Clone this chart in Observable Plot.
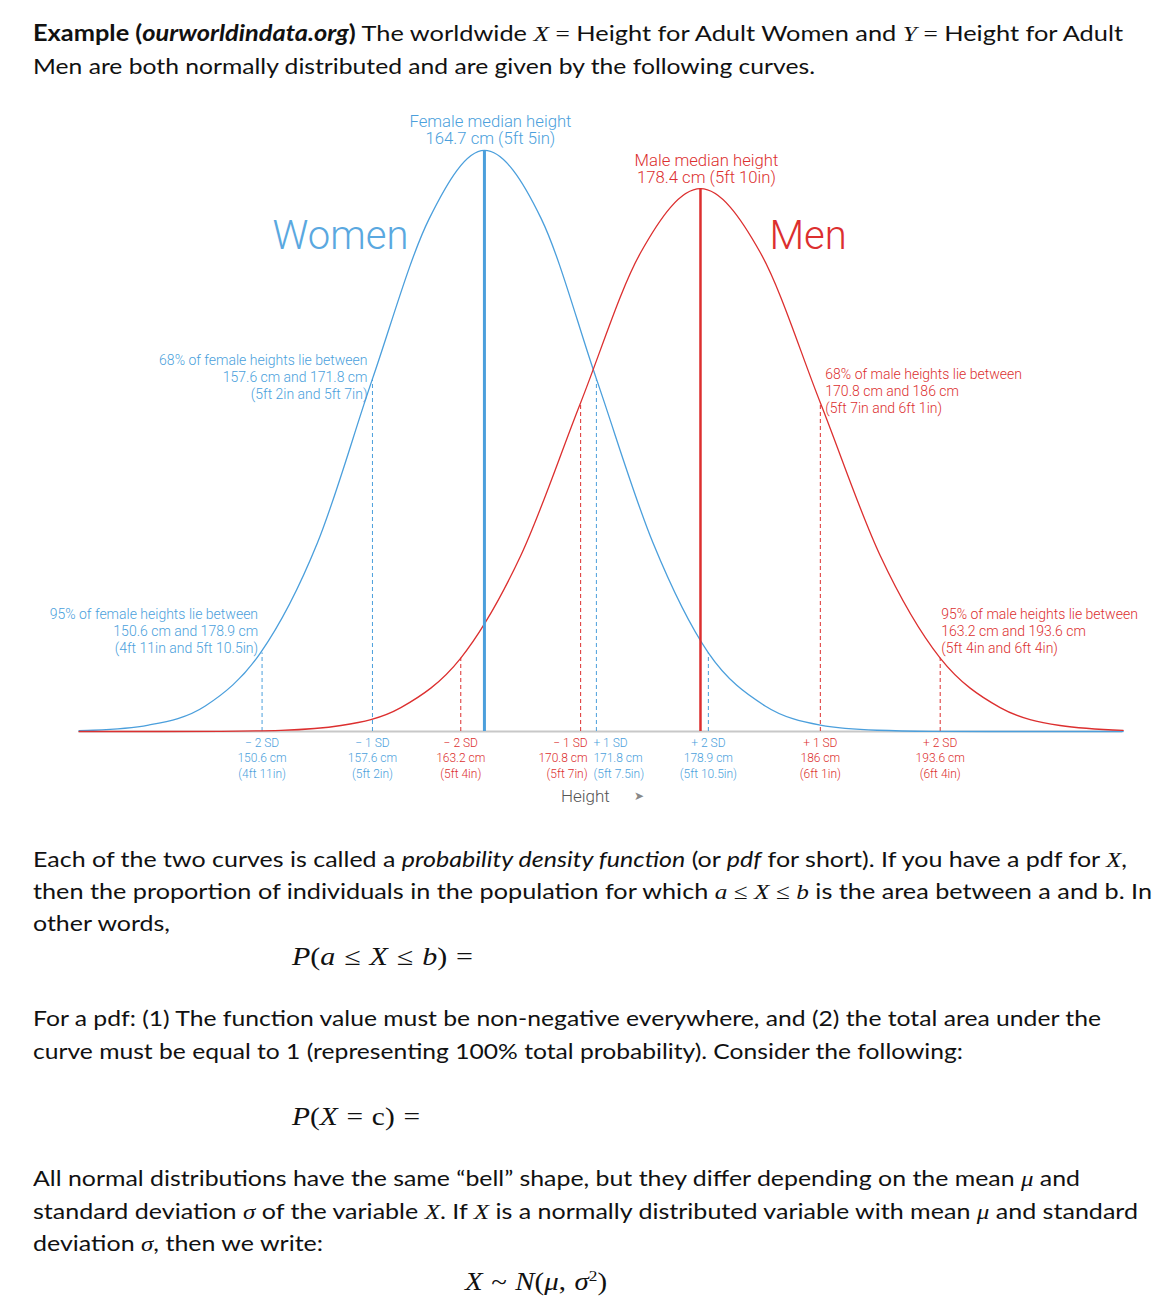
<!DOCTYPE html>
<html>
<head>
<meta charset="utf-8">
<script src="https://cdn.jsdelivr.net/npm/d3@7"></script>
<script src="https://cdn.jsdelivr.net/npm/@observablehq/plot@0.6"></script>
<style>
  html, body { margin: 0; padding: 0; background: #fff; }
  #page { position: relative; width: 1174px; height: 1306px; overflow: hidden;
          font-family: Lato, "Open Sans", sans-serif; font-size: 22px; color: #111; }
  .ln { position: absolute; white-space: nowrap; line-height: 32px; transform-origin: 0 50%; display: inline-block; }
  .eq { font-size: 25px; word-spacing: 1px; }
  .m { font-family: "Liberation Serif", "DejaVu Serif", serif; font-style: italic; }
  .mu { font-family: "Liberation Serif", "DejaVu Serif", serif; font-style: normal; }
  #chart { position: absolute; left: 0; top: 100px; }
</style>
</head>
<body>
<div id="page">
  <div class="ln" data-l="33" data-r="1123" data-c="33"><b>Example (<i>ourworldindata.org</i>)</b> The worldwide <span class="m">X</span> <span class="mu">=</span> Height for Adult Women and <span class="m">Y</span> <span class="mu">=</span> Height for Adult</div>
  <div class="ln" data-l="33" data-r="815" data-c="66">Men are both normally distributed and are given by the following curves.</div>

  <div id="chart"></div>

  <div class="ln" data-l="33" data-r="1127" data-c="859">Each of the two curves is called a <i>probability density function</i> (or <i>pdf</i> for short). If you have a pdf for <span class="m">X</span>,</div>
  <div class="ln" data-l="33" data-r="1152" data-c="891">then the proportion of individuals in the population for which <span class="m">a</span> <span class="mu">≤</span> <span class="m">X</span> <span class="mu">≤</span> <span class="m">b</span> is the area between a and b. In</div>
  <div class="ln" data-l="33" data-r="170" data-c="923">other words,</div>
  <div class="ln eq" data-l="292" data-r="473" data-c="955"><span class="m">P</span><span class="mu">(</span><span class="m">a</span> <span class="mu">≤</span> <span class="m">X</span> <span class="mu">≤</span> <span class="m">b</span><span class="mu">)</span> <span class="mu">=</span></div>
  <div class="ln" data-l="33" data-r="1101" data-c="1018">For a pdf: (1) The function value must be non-negative everywhere, and (2) the total area under the</div>
  <div class="ln" data-l="33" data-r="963" data-c="1051">curve must be equal to 1 (representing 100% total probability). Consider the following:</div>
  <div class="ln eq" data-l="292" data-r="420" data-c="1115"><span class="m">P</span><span class="mu">(</span><span class="m">X</span> <span class="mu">=</span> <span class="mu">c)</span> <span class="mu">=</span></div>
  <div class="ln" data-l="33" data-r="1080" data-c="1178">All normal distributions have the same “bell” shape, but they differ depending on the mean <span class="m">μ</span> and</div>
  <div class="ln" data-l="33" data-r="1138" data-c="1211">standard deviation <span class="m">σ</span> of the variable <span class="m">X</span>. If <span class="m">X</span> is a normally distributed variable with mean <span class="m">μ</span> and standard</div>
  <div class="ln" data-l="33" data-r="323" data-c="1243">deviation <span class="m">σ</span>, then we write:</div>
  <div class="ln eq" data-l="465" data-r="607" data-c="1276"><span class="m">X</span> <span class="mu">~</span> <span class="m">N</span><span class="mu">(</span><span class="m">μ</span><span class="mu">,</span> <span class="m">σ</span><sup class="mu" style="font-size:15px">2</sup><span class="mu">)</span></div>
</div>

<script>
// ---- Data ----
// Women: height (cm) and density (% per cm)
const womenHeight  = [139.0, 139.9, 143.4, 147.0, 150.5, 154.1, 157.6, 161.2, 164.7, 168.3, 171.8, 175.4, 178.9, 182.5, 186.0, 189.6, 193.1, 196.7, 200.2, 205.2];
const womenDensity = [0.008, 0.012, 0.062, 0.247, 0.76, 1.82, 3.41, 4.96, 5.62, 4.96, 3.41, 1.82, 0.76, 0.247, 0.062, 0.012, 0.002, 0.0002, 0.0, 0.0];
// Men
const menHeight  = [139.0, 144.2, 148.0, 151.8, 155.6, 159.4, 163.2, 167.0, 170.8, 174.6, 178.4, 182.2, 186.0, 189.8, 193.6, 197.4, 201.2, 205.2];
const menDensity = [0.0, 0.0002, 0.002, 0.011, 0.058, 0.231, 0.71, 1.70, 3.18, 4.63, 5.25, 4.63, 3.18, 1.70, 0.71, 0.231, 0.058, 0.011];

// Medians
const medianSex    = ["women", "men"];
const medianHeight = [164.7, 178.4];
const medianPeak   = [5.62, 5.25];
const medianLabel  = ["Female median height\n164.7 cm (5ft 5in)", "Male median height\n178.4 cm (5ft 10in)"];

// Standard-deviation markers
const tickSex    = ["women", "women", "men", "men", "women", "women", "men", "men"];
const tickHeight = [150.6, 157.6, 163.2, 170.8, 171.8, 178.9, 186.0, 193.6];
const tickDensity= [0.76, 3.41, 0.71, 3.18, 3.41, 0.76, 3.18, 0.71];
const tickSD     = ["− 2 SD", "− 1 SD", "− 2 SD", "− 1 SD", "+ 1 SD", "+ 2 SD", "+ 1 SD", "+ 2 SD"];
const tickCm     = ["150.6 cm", "157.6 cm", "163.2 cm", "170.8 cm", "171.8 cm", "178.9 cm", "186 cm", "193.6 cm"];
const tickFt     = ["(4ft 11in)", "(5ft 2in)", "(5ft 4in)", "(5ft 7in)", "(5ft 7.5in)", "(5ft 10.5in)", "(6ft 1in)", "(6ft 4in)"];

// Range annotations
const women68 = ["68% of female heights lie between", "157.6 cm and 171.8 cm", "(5ft 2in and 5ft 7in)"];
const men68   = ["68% of male heights lie between", "170.8 cm and 186 cm", "(5ft 7in and 6ft 1in)"];
const women95 = ["95% of female heights lie between", "150.6 cm and 178.9 cm", "(4ft 11in and 5ft 10.5in)"];
const men95   = ["95% of male heights lie between", "163.2 cm and 193.6 cm", "(5ft 4in and 6ft 4in)"];

// ---- Build tables ----
const BLUE = "#4b9fdc", RED = "#dc2f2f";
const color = s => s === "women" ? BLUE : RED;
const women = womenHeight.map((h, i) => ({h, d: womenDensity[i]}));
const men = menHeight.map((h, i) => ({h, d: menDensity[i]}));
const medians = medianSex.map((s, i) => ({s, h: medianHeight[i], p: medianPeak[i], label: medianLabel[i]}));
const ticks = tickSex.map((s, i) => ({s, h: tickHeight[i], d: tickDensity[i],
  label: tickSD[i] + "\n" + tickCm[i] + "\n" + tickFt[i], i}));
const midTicks = ticks.filter(t => t.i !== 3 && t.i !== 4);

const font = "Roboto, 'Liberation Sans', Arial, sans-serif";

const chart = Plot.plot({
  width: 1174, height: 715,
  marginLeft: 78, marginRight: 52, marginTop: 10.6, marginBottom: 84,
  x: {domain: [138.96, 205.16], axis: null},
  y: {domain: [0, 6], axis: null},
  style: {fontFamily: font, fontWeight: 300, overflow: "visible", background: "transparent"},
  marks: [
    Plot.ruleY([0], {stroke: "#c8c8c8", strokeWidth: 2}),
    Plot.ruleX(ticks, {x: "h", y1: 0, y2: "d", stroke: d => color(d.s), strokeWidth: 1, strokeDasharray: "4,3"}),
    Plot.line(women, {x: "h", y: "d", stroke: BLUE, strokeWidth: 1.3, curve: "monotone-x"}),
    Plot.line(men, {x: "h", y: "d", stroke: RED, strokeWidth: 1.3, curve: "monotone-x"}),
    Plot.ruleX(medians, {x: "h", y1: 0, y2: "p", stroke: d => color(d.s), strokeWidth: d => d.s === "women" ? 3 : 2.5}),
    Plot.text(medians, {x: "h", y: "p", text: "label", dx: 6, dy: -20, lineAnchor: "middle",
      fill: d => color(d.s), fontSize: 16.7, lineHeight: 1.02, fontWeight: 300}),
    Plot.text(["Women"], {x: 159.88, y: 4.787, text: d => d, textAnchor: "end", fill: "#5aa8e0", fontSize: 40, fontWeight: 300}),
    Plot.text(["Men"], {x: 182.77, y: 4.787, text: d => d, textAnchor: "start", fill: RED, fontSize: 40, fontWeight: 300}),
    Plot.text([women68.join("\n")], {x: 157.6, y: 3.433, text: d => d, dx: -5, textAnchor: "end", fill: BLUE, fontSize: 14, lineHeight: 1.21}),
    Plot.text([men68.join("\n")], {x: 186.0, y: 3.298, text: d => d, dx: 5, textAnchor: "start", fill: RED, fontSize: 14, lineHeight: 1.21}),
    Plot.text([women95.join("\n")], {x: 150.6, y: 0.977, text: d => d, dx: -4, textAnchor: "end", fill: BLUE, fontSize: 14, lineHeight: 1.21}),
    Plot.text([men95.join("\n")], {x: 193.6, y: 0.977, text: d => d, dx: 1, textAnchor: "start", fill: RED, fontSize: 14, lineHeight: 1.21}),
    Plot.text(midTicks, {x: "h", y: 0, text: "label", dy: 4, lineAnchor: "top", fill: d => color(d.s), fontSize: 12, lineHeight: 1.3}),
    Plot.text(ticks.filter(t => t.i === 3), {x: "h", y: 0, text: "label", dy: 4, dx: 7, textAnchor: "end", lineAnchor: "top", fill: RED, fontSize: 12, lineHeight: 1.3}),
    Plot.text(ticks.filter(t => t.i === 4), {x: "h", y: 0, text: "label", dy: 4, dx: -3, textAnchor: "start", lineAnchor: "top", fill: BLUE, fontSize: 12, lineHeight: 1.3}),
    Plot.text(["Height"], {x: 171.1, y: 0, text: d => d, dy: 65, fill: "#555", fontSize: 17, fontWeight: 300}),
    Plot.text(["➤"], {x: 174.47, y: 0, text: d => d, dy: 65, fill: "#888", fontSize: 12})
  ]
});
document.getElementById("chart").appendChild(chart);

function fitLines() {
  document.querySelectorAll(".ln").forEach(el => {
    const l = +el.dataset.l, r = +el.dataset.r, c = +el.dataset.c;
    el.style.transform = "none";
    el.style.left = l + "px";
    el.style.top = (c - 16.5) + "px";
    const w = el.getBoundingClientRect().width;
    el.style.transform = `scaleX(${(r - l) / w})`;
  });
}
fitLines();
if (document.fonts && document.fonts.ready) document.fonts.ready.then(fitLines);
</script>
</body>
</html>
